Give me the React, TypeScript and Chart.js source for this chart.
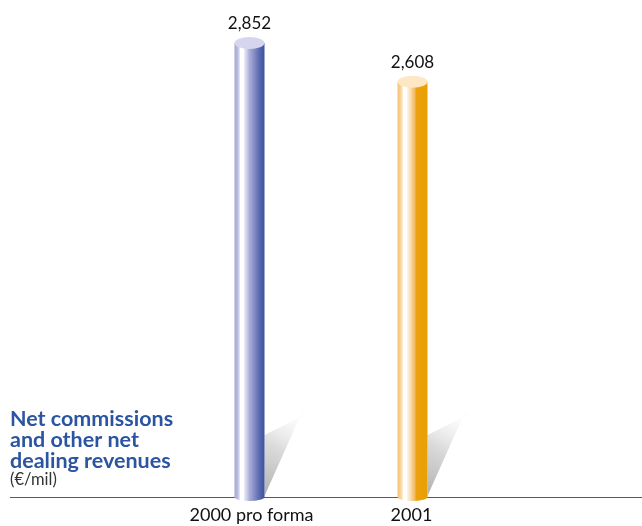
import React, { useEffect, useRef } from "react";
import { Chart, registerables } from "chart.js";

Chart.register(...registerables);

const categories = ["2000 pro forma", "2001"];
const values = [2852, 2608];
const valueLabels = ["2,852", "2,608"];
const titleLines = ["Net commissions", "and other net", "dealing revenues"];
const unitLabel = "(€/mil)";

const blueStops: [number, string][] = [
  [0, "#a2a6d3"], [0.1, "#b9bce0"], [0.16, "#d9daef"], [0.2, "#ffffff"], [0.3, "#ffffff"],
  [0.34, "#e4e5f3"], [0.44, "#c2c5e4"], [0.5, "#a9adda"], [0.6, "#9499cc"], [0.7, "#7b84c0"],
  [0.8, "#6070b3"], [0.9, "#4a60a8"], [1, "#3a529d"],
];
const orangeStops: [number, string][] = [
  [0, "#f2c070"], [0.1, "#f8d49a"], [0.16, "#fde6c4"], [0.2, "#ffffff"], [0.3, "#ffffff"],
  [0.34, "#fef0dc"], [0.44, "#fbdcae"], [0.5, "#f7cb88"], [0.58, "#f2b95e"], [0.62, "#eba20e"],
  [1, "#e9a000"],
];
const topColors = ["#d5d6ee", "#fde7c4"];

const cylinderPlugin = {
  id: "cylinders",
  afterDatasetsDraw(chart: any) {
    const ctx: CanvasRenderingContext2D = chart.ctx;
    const meta = chart.getDatasetMeta(0);
    const base = chart.scales.y.getPixelForValue(0);
    ctx.save();
    // baseline
    ctx.strokeStyle = "#5a5a5a";
    ctx.lineWidth = 1;
    ctx.beginPath();
    ctx.moveTo(10, Math.round(base) + 0.5);
    ctx.lineTo(642, Math.round(base) + 0.5);
    ctx.stroke();

    meta.data.forEach((bar: any, i: number) => {
      const w = bar.width;
      const left = bar.x - w / 2;
      const right = bar.x + w / 2;
      const top = bar.y;
      const ry = 6;
      // shadow
      const sg = ctx.createLinearGradient(right, base, right + 46, base - 84);
      sg.addColorStop(0, "rgba(170,170,170,0.95)");
      sg.addColorStop(0.5, "rgba(205,205,205,0.75)");
      sg.addColorStop(1, "rgba(240,240,240,0)");
      ctx.fillStyle = sg;
      ctx.beginPath();
      ctx.moveTo(right, base - 1);
      ctx.lineTo(right, base - 62);
      ctx.lineTo(right + 48, base - 86);
      ctx.lineTo(right + 38, base - 86);
      ctx.closePath();
      ctx.fill();

      // body
      const stops = i === 0 ? blueStops : orangeStops;
      const g = ctx.createLinearGradient(left, 0, right, 0);
      stops.forEach(([p, c]) => g.addColorStop(p, c));
      ctx.fillStyle = g;
      ctx.beginPath();
      ctx.moveTo(left, top);
      ctx.lineTo(left, base);
      ctx.ellipse(bar.x, base, w / 2, 4, 0, Math.PI, 0, true);
      ctx.lineTo(right, top);
      ctx.closePath();
      ctx.fill();
      // top ellipse
      ctx.fillStyle = topColors[i];
      ctx.beginPath();
      ctx.ellipse(bar.x, top, w / 2, ry, 0, 0, Math.PI * 2);
      ctx.fill();

      // value label
      ctx.fillStyle = "#111";
      ctx.font = "17px Lato, 'DejaVu Sans', sans-serif";
      ctx.textAlign = "center";
      ctx.textBaseline = "alphabetic";
      ctx.fillText(valueLabels[i], bar.x, top - 14);

      // category label
      ctx.font = "18px Lato, 'DejaVu Sans', sans-serif";
      ctx.fillText(categories[i], bar.x + (i === 0 ? 2 : -1), base + 24);
    });

    // title
    ctx.textAlign = "left";
    ctx.fillStyle = "#2b55a0";
    ctx.font = "bold 21.5px Lato, 'DejaVu Sans', sans-serif";
    titleLines.forEach((t, k) => ctx.fillText(t, 10, 426 + k * 21));
    ctx.fillStyle = "#333";
    ctx.font = "16.5px Lato, 'DejaVu Sans', sans-serif";
    ctx.fillText(unitLabel, 10, 485);
    ctx.restore();
  },
};

export default function App() {
  const ref = useRef<HTMLCanvasElement>(null);
  useEffect(() => {
    document.body.style.margin = "0";
    const chart = new Chart(ref.current!, {
      type: "bar",
      data: {
        labels: categories,
        datasets: [
          {
            data: values,
            backgroundColor: "rgba(0,0,0,0)",
            borderWidth: 0,
            barThickness: 30,
          },
        ],
      },
      options: {
        animation: false,
        responsive: false,
        layout: { padding: { left: 168, right: 148, top: 19.4, bottom: 29 } },
        plugins: { legend: { display: false }, tooltip: { enabled: false } },
        scales: {
          x: { display: false },
          y: { display: false, min: 0, max: 3000 },
        },
      },
      plugins: [cylinderPlugin],
    });
    return () => chart.destroy();
  }, []);
  return (
    <div style={{ position: "fixed", left: 0, top: 0, width: 642, height: 526, background: "#fff" }}>
      <canvas ref={ref} width={642} height={526} />
    </div>
  );
}
